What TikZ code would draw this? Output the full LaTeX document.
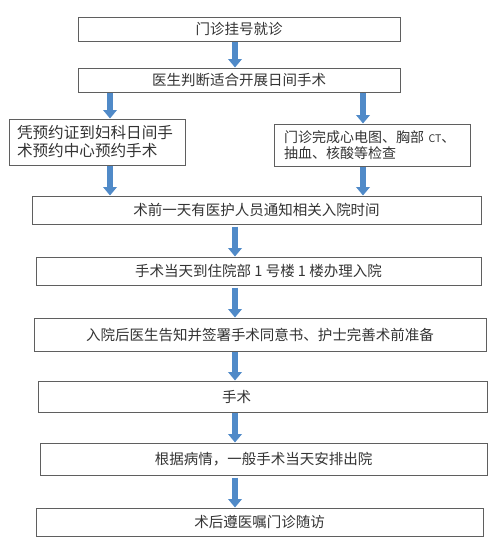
\documentclass[tikz,border=0pt]{standalone}
\usepackage{fontspec}
\setmainfont{Noto Sans CJK SC}
\usepackage{tikz}
\usetikzlibrary{positioning, arrows.meta}
\definecolor{arrowblue}{RGB}{80,138,200}
\definecolor{linegray}{RGB}{95,95,95}

\begin{document}
\begin{tikzpicture}[
     x=1pt, y=-1pt,
every node/.style = {text=black!80},
        box/.style = {rectangle, draw=linegray, line width=1pt, inner sep=0pt,
                      font=\fontsize{14.5pt}{16pt}\selectfont},
       lbox/.style = {rectangle, draw=linegray, line width=1pt, align=left,
                      inner ysep=3pt},
        blk/.style = {draw=arrowblue, line width=5.5pt,
                      -{Triangle[width=13.5pt, length=8.5pt]}}
                        ]
\useasboundingbox (0,0) rectangle (500,552);
\node (b1)  [box, minimum width=322pt, minimum height=24pt] at (239,29) {门诊挂号就诊};
\node (b2)  [box, minimum width=322pt, minimum height=24pt] at (239,80) {医生判断适合开展日间手术};
\node (b3)  [lbox, text width=160pt, inner xsep=8pt, minimum height=46pt,
             font=\fontsize{15.6pt}{18pt}\selectfont] at (97,142)
            {凭预约证到妇科日间手\\术预约中心预约手术};
\node (b4)  [lbox, text width=176pt, inner xsep=10pt, minimum height=42pt,
             font=\fontsize{14pt}{15.5pt}\selectfont] at (372,145)
            {门诊完成心电图、胸部 {\fontsize{10.5pt}{12pt}\selectfont CT}、\\抽血、核酸等检查};
\node (b5)  [box, minimum width=449pt, minimum height=28pt] at (256.5,210) {术前一天有医护人员通知相关入院时间};
\node (b6)  [box, minimum width=445pt, minimum height=28pt] at (258.5,271) {手术当天到住院部 1 号楼 1 楼办理入院};
\node (b7)  [box, minimum width=452pt, minimum height=33pt] at (260,334.5) {入院后医生告知并签署手术同意书、护士完善术前准备};
\node (b8)  [box, text width=449pt, align=center, minimum height=31pt] at (262.5,396.5) {\hspace*{-52pt}手术};
\node (b9)  [box, minimum width=447pt, minimum height=32pt] at (263.5,459) {根据病情，一般手术当天安排出院};
\node (b10) [box, minimum width=447pt, minimum height=28pt] at (259.5,522) {术后遵医嘱门诊随访};
% arrow columns
\coordinate (mx) at (235,0);
\coordinate (lx) at (110,0);
\coordinate (rx) at (363,0);
\draw[blk] (b1.south -| mx) -- (b2.north -| mx);
\draw[blk] (b2.south -| lx) -- (b3.north -| lx);
\draw[blk] (b2.south -| rx) -- (b4.north -| rx);
\draw[blk] (b3.south -| lx) -- (b5.north -| lx);
\draw[blk] (b4.south -| rx) -- (b5.north -| rx);
\draw[blk, shorten <=2pt] (b5.south -| mx) -- (b6.north -| mx);
\draw[blk, shorten <=2pt] (b6.south -| mx) -- (b7.north -| mx);
\draw[blk] (b7.south -| mx) -- (b8.north -| mx);
\draw[blk] (b8.south -| mx) -- (b9.north -| mx);
\draw[blk, shorten <=2pt] (b9.south -| mx) -- (b10.north -| mx);
\end{tikzpicture}
\end{document}
